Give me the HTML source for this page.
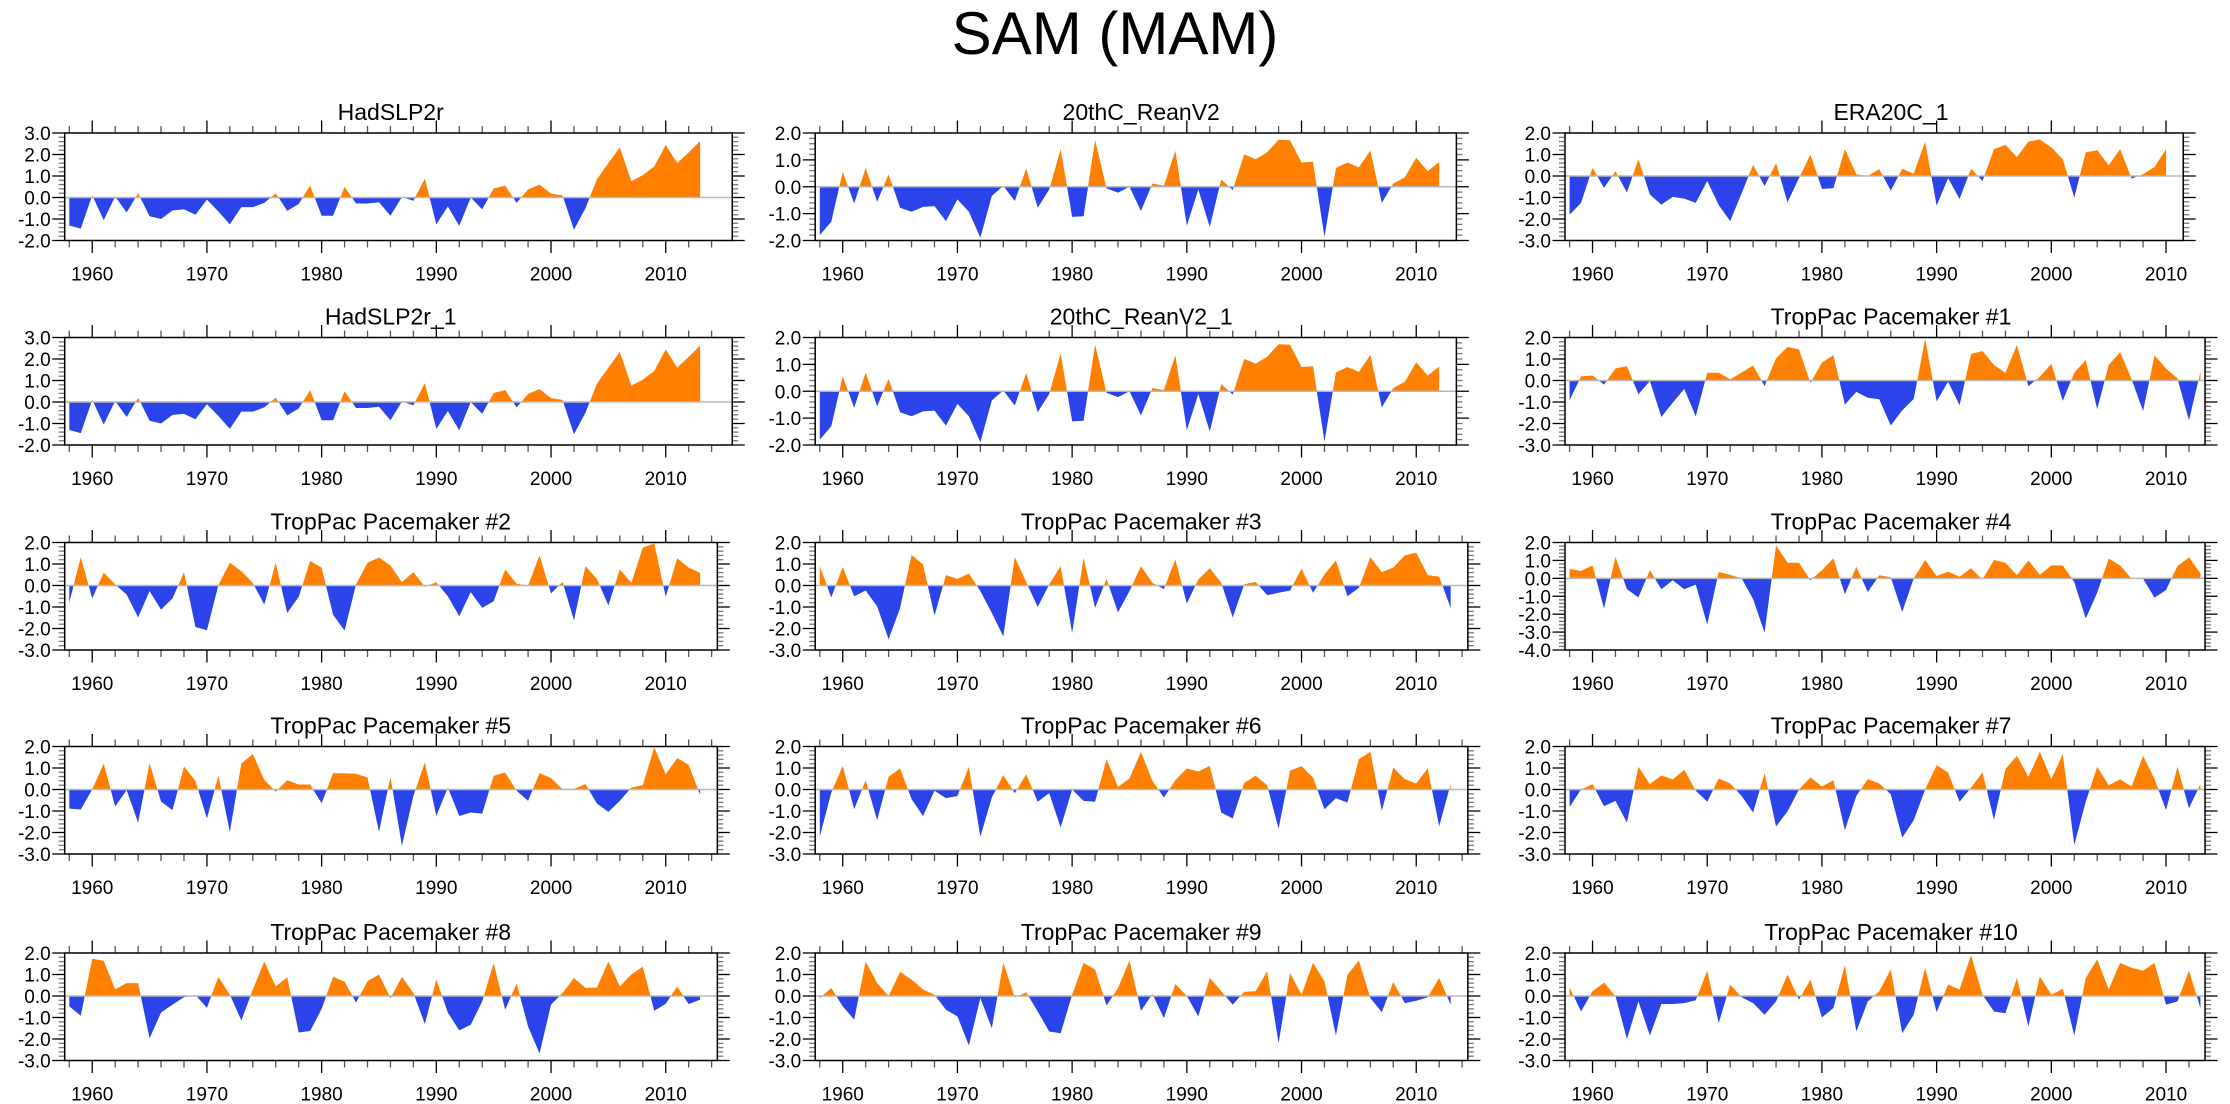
<!DOCTYPE html>
<html><head><meta charset="utf-8">
<style>
html,body{margin:0;padding:0;background:#fff;}
svg{display:block;font-family:"Liberation Sans",Arial,sans-serif;}
</style></head>
<body>
<svg id="fig" width="2230" height="1104" viewBox="0 0 2230 1104" xmlns="http://www.w3.org/2000/svg">
<text x="1115" y="54" text-anchor="middle" font-size="60">SAM (MAM)</text>
</svg>
<script>
const years = [];
for (let y = 1958; y <= 2013; y++) years.push(y);

const hadslp2r = [-1.3,-1.45,0.1,-1.05,0.05,-0.7,0.2,-0.87,-1.0,-0.6,-0.55,-0.8,-0.1,-0.65,-1.25,-0.45,-0.45,-0.25,0.2,-0.62,-0.3,0.55,-0.85,-0.85,0.5,-0.28,-0.28,-0.22,-0.85,0.02,-0.15,0.88,-1.25,-0.42,-1.32,0.0,-0.55,0.42,0.55,-0.25,0.38,0.6,0.18,0.1,-1.5,-0.5,0.85,1.6,2.33,0.76,1.04,1.45,2.45,1.6,2.1,2.62];
const reanv2 = [-1.8,-1.3,0.55,-0.62,0.7,-0.56,0.46,-0.78,-0.93,-0.75,-0.72,-1.28,-0.47,-0.93,-1.9,-0.34,0.03,-0.53,0.68,-0.78,-0.1,1.4,-1.12,-1.1,1.74,-0.06,-0.22,0.0,-0.9,0.12,0.04,1.34,-1.45,-0.1,-1.5,0.27,-0.12,1.2,1.03,1.28,1.75,1.73,0.9,0.93,-1.87,0.7,0.9,0.72,1.35,-0.6,0.12,0.35,1.08,0.58,0.92];
const era20c = [-1.8,-1.25,0.38,-0.55,0.22,-0.77,0.78,-0.86,-1.33,-0.97,-1.05,-1.25,-0.23,-1.35,-2.1,-0.8,0.52,-0.47,0.6,-1.22,-0.1,1.0,-0.6,-0.57,1.25,0.08,0.0,0.32,-0.68,0.34,0.1,1.6,-1.38,-0.1,-1.07,0.34,-0.23,1.25,1.45,0.88,1.6,1.7,1.33,0.78,-1.0,1.1,1.2,0.5,1.25,-0.12,0.08,0.42,1.25];
const tp1 = [-0.92,0.19,0.23,-0.19,0.56,0.67,-0.64,-0.02,-1.7,-1.03,-0.39,-1.67,0.36,0.36,0.05,0.37,0.7,-0.26,1.03,1.56,1.45,-0.11,0.83,1.18,-1.12,-0.53,-0.8,-0.87,-2.09,-1.39,-0.86,1.93,-0.97,-0.06,-1.15,1.23,1.37,0.72,0.36,1.65,-0.26,0.17,0.78,-0.95,0.36,0.95,-1.34,0.72,1.32,0.05,-1.42,1.17,0.56,0.09,-1.85,0.4];
const tp2 = [-0.8,1.32,-0.6,0.6,0.05,-0.42,-1.48,-0.26,-1.12,-0.6,0.62,-1.93,-2.08,0.02,1.06,0.67,0.12,-0.89,1.06,-1.28,-0.53,1.14,0.83,-1.36,-2.1,0.05,1.06,1.3,0.93,0.15,0.62,-0.06,0.15,-0.5,-1.43,-0.31,-1.04,-0.73,0.75,0.08,0.0,1.4,-0.37,0.17,-1.62,0.9,0.31,-0.93,0.75,0.12,1.76,1.96,-0.53,1.26,0.83,0.59];
const tp3 = [0.9,-0.55,0.86,-0.5,-0.23,-0.97,-2.5,-1.05,1.42,0.98,-1.4,0.48,0.31,0.55,-0.26,-1.28,-2.37,1.32,0.15,-1.0,0.05,0.9,-2.21,1.29,-1.04,0.31,-1.25,-0.26,0.9,0.12,-0.16,1.21,-0.84,0.28,0.81,0.12,-1.48,0.05,0.17,-0.45,-0.34,-0.23,0.78,-0.34,0.51,1.17,-0.5,-0.11,1.32,0.62,0.83,1.4,1.53,0.48,0.41,-1.04];
const tp4 = [0.52,0.41,0.72,-1.69,1.2,-0.61,-1.06,0.45,-0.61,-0.11,-0.61,-0.35,-2.58,0.35,0.19,0.0,-1.17,-3.03,1.84,0.87,0.87,-0.11,0.45,1.12,-0.89,0.65,-0.76,0.17,0.06,-1.88,0.0,1.02,0.13,0.37,0.09,0.56,-0.07,1.02,0.87,0.17,1.0,0.19,0.72,0.72,-0.2,-2.25,-0.8,1.1,0.72,-0.02,-0.02,-1.08,-0.65,0.69,1.17,0.28];
const tp5 = [-0.89,-0.93,0.0,1.21,-0.79,-0.03,-1.54,1.23,-0.56,-0.96,1.07,0.4,-1.35,0.64,-1.97,1.21,1.65,0.45,-0.09,0.43,0.23,0.23,-0.64,0.76,0.75,0.73,0.56,-1.97,0.59,-2.62,-0.3,1.26,-1.23,0.09,-1.23,-1.07,-1.12,0.64,0.79,-0.06,-0.53,0.76,0.53,0.02,0.03,0.25,-0.65,-1.04,-0.53,0.09,0.2,1.96,0.71,1.46,1.15,-0.25];
const tp6 = [-2.19,-0.15,1.1,-0.92,0.43,-1.43,0.59,0.98,-0.45,-1.23,-0.06,-0.4,-0.3,1.06,-2.2,-0.37,0.67,-0.17,0.71,-0.57,-0.17,-1.77,0.0,-0.53,-0.57,1.41,0.12,0.51,1.75,0.4,-0.37,0.43,0.98,0.84,1.1,-1.07,-1.35,0.3,0.64,0.2,-1.82,0.87,1.09,0.56,-0.92,-0.4,-0.61,1.41,1.75,-0.99,1.02,0.48,0.28,0.98,-1.71,0.25];
const tp7 = [-0.81,0.0,0.25,-0.78,-0.53,-1.54,1.06,0.25,0.65,0.47,0.92,-0.06,-0.57,0.51,0.28,-0.3,-1.07,0.76,-1.72,-1.02,0.0,0.56,0.14,0.43,-1.89,-0.3,0.48,0.28,-0.22,-2.24,-1.43,0.0,1.13,0.79,-0.57,0.09,0.79,-1.41,0.95,1.57,0.59,1.75,0.48,1.65,-2.58,-0.57,1.06,0.2,0.47,0.14,1.57,0.48,-0.96,1.06,-0.87,0.25];
const tp8 = [-0.48,-0.92,1.73,1.64,0.31,0.6,0.6,-1.97,-0.77,-0.4,-0.06,0.05,-0.55,0.89,0.06,-1.14,0.3,1.6,0.44,0.87,-1.7,-1.63,-0.6,0.89,0.67,-0.3,0.69,1.0,-0.1,0.89,0.14,-1.3,0.77,-0.77,-1.6,-1.34,-0.25,1.53,-0.64,0.58,-1.42,-2.67,-0.4,0.14,0.84,0.38,0.39,1.6,0.45,1.0,1.36,-0.69,-0.36,0.44,-0.38,-0.17];
const tp9 = [-0.1,0.37,-0.48,-1.1,1.6,0.6,0.0,1.12,0.76,0.3,0.06,-0.64,-0.95,-2.3,-0.1,-1.5,1.54,-0.06,0.17,-0.72,-1.65,-1.73,0.06,1.54,1.23,-0.44,0.37,1.65,-0.69,0.09,-1.03,0.56,0.0,-0.95,0.84,0.22,-0.4,0.19,0.22,1.15,-2.2,1.07,0.06,1.54,0.68,-1.84,0.98,1.65,-0.1,-0.75,0.65,-0.33,-0.22,-0.06,0.84,-0.4];
const tp10 = [0.4,-0.72,0.22,0.62,0.0,-2.0,-0.25,-1.84,-0.37,-0.37,-0.33,-0.2,1.18,-1.26,0.53,-0.06,-0.33,-0.87,-0.25,1.0,-0.17,0.76,-1.0,-0.56,1.43,-1.65,-0.25,0.22,1.23,-1.73,-0.87,1.31,-0.75,0.53,0.3,1.9,0.06,-0.72,-0.8,0.84,-1.42,0.92,0.06,0.34,-1.84,0.84,1.7,0.3,1.54,1.31,1.18,1.54,-0.4,-0.25,1.18,-0.56];

const panelTitles = ["HadSLP2r","20thC_ReanV2","ERA20C_1","HadSLP2r_1","20thC_ReanV2_1","TropPac Pacemaker #1","TropPac Pacemaker #2","TropPac Pacemaker #3","TropPac Pacemaker #4","TropPac Pacemaker #5","TropPac Pacemaker #6","TropPac Pacemaker #7","TropPac Pacemaker #8","TropPac Pacemaker #9","TropPac Pacemaker #10"];
const panelSeries = [hadslp2r,reanv2,era20c,hadslp2r,reanv2,tp1,tp2,tp3,tp4,tp5,tp6,tp7,tp8,tp9,tp10];
const panelYMin = [-2,-2,-3,-2,-2,-3,-3,-3,-4,-3,-3,-3,-3,-3,-3];
const panelYMax = [3,2,2,3,2,2,2,2,2,2,2,2,2,2,2];
const panelXMax = [2015.8,2013.5,2011.5,2015.8,2013.5,2013.4,2014.5,2014.5,2013.4,2014.5,2014.5,2013.4,2014.5,2014.5,2013.4];
const yearTicks = [1960,1970,1980,1990,2000,2010];

const svg = document.getElementById('fig');
const NS = 'http://www.w3.org/2000/svg';
const colLeft = [64.7, 815.2, 1565];
const rowTop = [133, 337.5, 542.5, 746.5, 953];
const H = 107.5, XMIN = 1957.6, PPY = 11.47;
const BLUE = '#2a44ea', ORANGE = '#ff8000';

function mk(tag, attrs, parent) {
  const e = document.createElementNS(NS, tag);
  for (const k in attrs) e.setAttribute(k, attrs[k]);
  parent.appendChild(e);
  return e;
}

panelSeries.forEach((vals, i) => {
  const r = Math.floor(i / 3), c = i % 3;
  const L = colLeft[c], T = rowTop[r];
  const xmax = panelXMax[i], ymin = panelYMin[i], ymax = panelYMax[i];
  const W = (xmax - XMIN) * PPY;
  const xs = v => L + (v - XMIN) * PPY;
  const ys = v => T + (ymax - v) / (ymax - ymin) * H;
  const g = mk('g', {}, svg);
  
  

  const t = mk('text', {x: L + 326, y: T - 13, 'text-anchor': 'middle', 'font-size': 23}, g);
  
  
  t.textContent = panelTitles[i];

  const y0 = ys(0);
  let pts = xs(years[0]).toFixed(2) + ',' + y0.toFixed(2) + ' ';
  vals.forEach((v, k) => { pts += xs(years[k]).toFixed(2) + ',' + ys(v).toFixed(2) + ' '; });
  pts += xs(years[vals.length - 1]).toFixed(2) + ',' + y0.toFixed(2);
  const cidA = 'ca' + i, cidB = 'cb' + i;
  const defs = mk('defs', {}, g);
  const cpa = mk('clipPath', {id: cidA}, defs);
  mk('rect', {x: L, y: T, width: W, height: y0 - T}, cpa);
  const cpb = mk('clipPath', {id: cidB}, defs);
  mk('rect', {x: L, y: y0, width: W, height: T + H - y0}, cpb);
  const pa = mk('polygon', {points: pts, fill: ORANGE, 'clip-path': 'url(#' + cidA + ')'}, g);
  
  
  const pb = mk('polygon', {points: pts, fill: BLUE, 'clip-path': 'url(#' + cidB + ')'}, g);
  
  

  const zl = mk('line', {x1: L, x2: L + W, y1: y0, y2: y0, stroke: '#b8b8b8', 'stroke-width': 1.5}, g);
  
  

  for (let yr = 1958; yr <= xmax; yr += 2) {
    const major = yr % 10 === 0;
    const len = major ? 12.5 : 7;
    const x = xs(yr);
    mk('line', {x1: x, x2: x, y1: T, y2: T - len, stroke: major ? '#000' : '#555', 'stroke-width': 1.3}, g);
    mk('line', {x1: x, x2: x, y1: T + H, y2: T + H + len, stroke: major ? '#000' : '#555', 'stroke-width': 1.3}, g);
  }
  yearTicks.forEach(yr => {
    if (yr > xmax) return;
    const lt = mk('text', {x: xs(yr), y: T + H + 40, 'text-anchor': 'middle', 'font-size': 19}, g);
    
    
    lt.textContent = String(yr);
  });
  for (let k = Math.round(ymin * 5); k <= Math.round(ymax * 5); k++) {
    const v = k / 5, y = ys(v);
    const major = k % 5 === 0;
    const len = major ? 12.5 : 6;
    mk('line', {x1: L, x2: L - len, y1: y, y2: y, stroke: major ? '#000' : '#777', 'stroke-width': 1.3}, g);
    mk('line', {x1: L + W, x2: L + W + len, y1: y, y2: y, stroke: major ? '#000' : '#777', 'stroke-width': 1.3}, g);
    if (major) {
      const yl = mk('text', {x: L - 14, y: y + 7, 'text-anchor': 'end', 'font-size': 19}, g);
      
      
      yl.textContent = v.toFixed(1);
    }
  }
  const fr = mk('rect', {x: L, y: T, width: W, height: H, fill: 'none', stroke: '#000', 'stroke-width': 1.5}, g);
  
  
});
</script>
</body></html>
